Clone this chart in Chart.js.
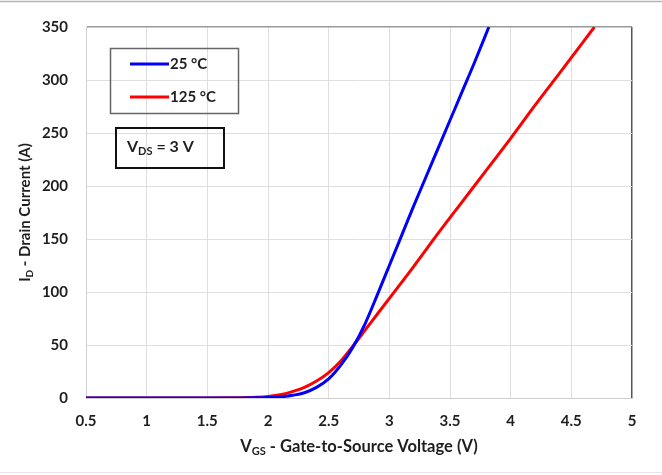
<!DOCTYPE html>
<html>
<head>
<meta charset="utf-8">
<script src="https://cdn.jsdelivr.net/npm/chart.js@4.4.0/dist/chart.umd.min.js"></script>
<style>
  html, body { margin: 0; padding: 0; background: #fff; }
  #wrap { position: relative; width: 662px; height: 475px; }
  canvas { display: block; }
</style>
</head>
<body>
<div id="wrap"><canvas id="c" width="662" height="475"></canvas></div>
<script>
// Transfer characteristics: drain current vs gate-source voltage at V_DS = 3 V
const seriesLabels = ['25 °C', '125 °C'];
const seriesColors = ['#0000ff', '#ff0000'];

const vgs25 = [0.5, 1.0, 1.5, 1.8, 2.0, 2.1, 2.2, 2.3, 2.4, 2.5, 2.6, 2.7, 2.8, 2.9, 3.0, 3.1, 3.2, 3.3, 3.4, 3.5, 3.6, 3.7, 3.82];
const id25  = [0, 0, 0, 0.1, 0.4, 1, 2.5, 5, 10, 18, 31, 48, 70, 97, 125, 153, 181, 208, 235, 262, 289, 316, 350];

const vgs125 = [0.5, 1.0, 1.5, 1.7, 1.9, 2.0, 2.1, 2.2, 2.3, 2.4, 2.5, 2.6, 2.7, 2.8, 2.9, 3.0, 3.2, 3.4, 3.6, 3.8, 4.0, 4.2, 4.4, 4.69];
const id125  = [0, 0, 0, 0.2, 0.8, 1.5, 3, 6, 10, 16, 24, 35, 49, 64, 79, 94, 124, 155, 185, 215, 245, 276, 306, 350];

const xTicks = [0.5, 1, 1.5, 2, 2.5, 3, 3.5, 4, 4.5, 5];
const yTicks = [0, 50, 100, 150, 200, 250, 300, 350];

const xTitle = [['V', false], ['GS', true], [' - Gate-to-Source Voltage (V)', false]];
const yTitle = [['I', false], ['D', true], [' - Drain Current (A)', false]];
const condition = [['V', false], ['DS', true], [' = 3 V', false]];

const FAMILY = 'Lato, "Open Sans", sans-serif';
const TEXT = '#1e1e1e';

function toPoints(xs, ys) { return xs.map((x, i) => ({ x: x, y: ys[i] })); }

// text with subscript runs
function richWidth(ctx, parts, size) {
  let w = 0;
  parts.forEach(([t, sub]) => {
    ctx.font = 'bold ' + (sub ? Math.round(size * 0.68) : size) + 'px ' + FAMILY;
    w += ctx.measureText(t).width;
  });
  return w;
}
function drawRich(ctx, parts, x, y, size) {
  ctx.textBaseline = 'middle';
  ctx.textAlign = 'left';
  let cx = x;
  parts.forEach(([t, sub]) => {
    ctx.font = 'bold ' + (sub ? Math.round(size * 0.68) : size) + 'px ' + FAMILY;
    ctx.fillText(t, cx, sub ? y + size * 0.3 : y);
    cx += ctx.measureText(t).width;
  });
}

const decorations = {
  id: 'decorations',
  beforeDraw(chart) {
    const ctx = chart.ctx;
    ctx.save();
    ctx.fillStyle = '#fff';
    ctx.fillRect(0, 0, chart.width, chart.height);
    ctx.strokeStyle = '#b4b4b4';
    ctx.lineWidth = 1.5;
    ctx.beginPath(); ctx.moveTo(0, 1.5); ctx.lineTo(chart.width, 1.5); ctx.stroke();
    ctx.strokeStyle = '#e8e8e8';
    ctx.lineWidth = 1;
    ctx.beginPath(); ctx.moveTo(0, 472.5); ctx.lineTo(chart.width, 472.5); ctx.stroke();
    ctx.restore();
  },
  afterDraw(chart) {
    const ctx = chart.ctx;
    const area = chart.chartArea;
    ctx.save();
    ctx.fillStyle = TEXT;

    // axis titles
    const xs = 16.5;
    const xw = richWidth(ctx, xTitle, xs);
    drawRich(ctx, xTitle, (area.left + area.right) / 2 - xw / 2, 447, xs);

    const ys = 15;
    const yw = richWidth(ctx, yTitle, ys);
    ctx.save();
    ctx.translate(25, (area.top + area.bottom) / 2);
    ctx.rotate(-Math.PI / 2);
    drawRich(ctx, yTitle, -yw / 2, 0, ys);
    ctx.restore();

    // series key
    ctx.strokeStyle = '#666';
    ctx.lineWidth = 1.5;
    ctx.strokeRect(110.5, 48.5, 128, 65);
    const rows = [64, 97];
    chart.data.datasets.forEach((ds, i) => {
      ctx.strokeStyle = ds.borderColor;
      ctx.lineWidth = 3;
      ctx.beginPath(); ctx.moveTo(130, rows[i]); ctx.lineTo(169, rows[i]); ctx.stroke();
      ctx.fillStyle = TEXT;
      ctx.font = 'bold 15px ' + FAMILY;
      ctx.textBaseline = 'middle';
      ctx.textAlign = 'left';
      ctx.fillText(ds.label, 170, rows[i]);
    });

    // test condition box
    ctx.strokeStyle = '#111';
    ctx.lineWidth = 2;
    ctx.strokeRect(116, 128, 108, 40);
    ctx.fillStyle = TEXT;
    drawRich(ctx, condition, 127, 147, 16);
    ctx.restore();
  }
};

new Chart(document.getElementById('c'), {
  type: 'line',
  data: {
    datasets: [
      { label: seriesLabels[0], data: toPoints(vgs25, id25), borderColor: seriesColors[0] },
      { label: seriesLabels[1], data: toPoints(vgs125, id125), borderColor: seriesColors[1] }
    ]
  },
  options: {
    responsive: false,
    devicePixelRatio: 1,
    animation: false,
    layout: { padding: { left: 0, right: 30, top: 20, bottom: 0 } },
    elements: {
      point: { radius: 0 },
      line: { borderWidth: 3, cubicInterpolationMode: 'monotone', fill: false }
    },
    plugins: { legend: { display: false }, tooltip: { enabled: false } },
    scales: {
      x: {
        type: 'linear',
        min: 0.5, max: 5,
        afterBuildTicks: s => { s.ticks = xTicks.map(v => ({ value: v })); },
        afterFit: s => { s.height = 77; },
        grid: {
          drawTicks: false,
          color: c => (c.tick && c.tick.value === 5) ? '#555' : '#dedede',
          lineWidth: c => (c.tick && c.tick.value === 5) ? 1.5 : 1
        },
        border: { color: '#cfcfcf' },
        ticks: {
          padding: 14, color: TEXT,
          font: { family: FAMILY, size: 15, weight: 'bold' },
          callback: v => String(v)
        }
      },
      y: {
        min: 0, max: 350,
        afterBuildTicks: s => { s.ticks = yTicks.map(v => ({ value: v })); },
        afterFit: s => { s.width = 86; },
        grid: {
          drawTicks: false,
          color: c => (c.tick && c.tick.value === 350) ? '#9a9a9a' : '#dedede',
          lineWidth: c => (c.tick && c.tick.value === 350) ? 1.5 : 1
        },
        border: { color: '#cfcfcf' },
        ticks: {
          padding: 18, color: TEXT,
          font: { family: FAMILY, size: 15, weight: 'bold' },
          callback: v => String(v)
        }
      }
    }
  },
  plugins: [decorations]
});
</script>
</body>
</html>
